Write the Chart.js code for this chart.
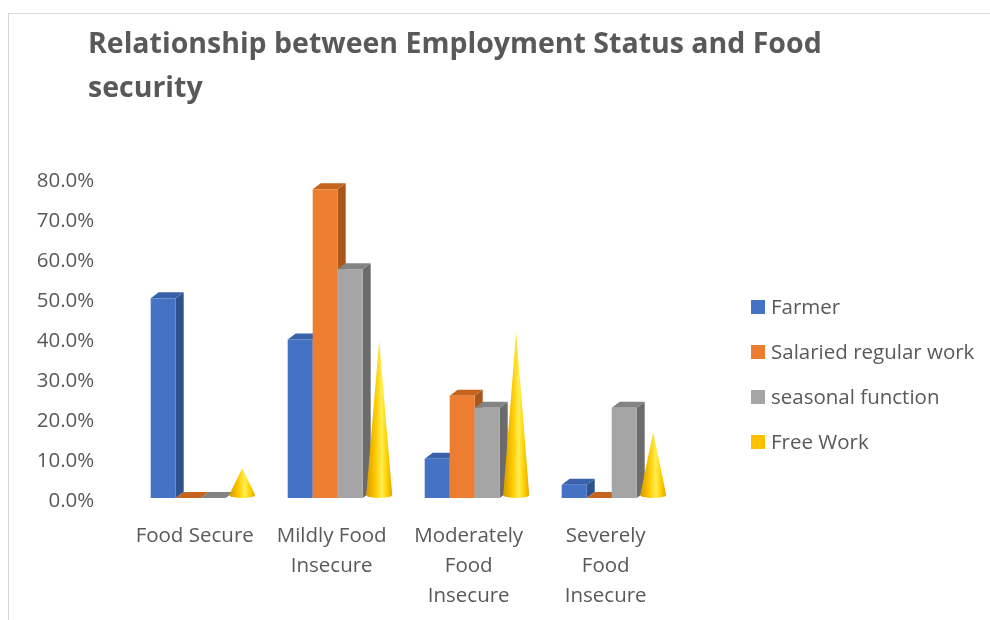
<!DOCTYPE html>
<html>
<head>
<meta charset="utf-8">
<script src="https://cdn.jsdelivr.net/npm/chart.js@4.4.1/dist/chart.umd.min.js"></script>
<style>
  html, body { margin: 0; padding: 0; background: #fff; overflow: hidden; }
  #wrap { position: relative; width: 990px; height: 620px; overflow: hidden; }
  #frame { position: absolute; left: 8px; top: 13px; width: 1100px; height: 700px; border: 1px solid #d9d9d9; }
  #chart { position: absolute; left: 0; top: 0; }
</style>
</head>
<body>
<div id="wrap">
  <div id="frame"></div>
  <canvas id="chart" width="990" height="620"></canvas>
</div>
<script>
// ---- Datos ----
const categories = [
  ['Food Secure'],
  ['Mildly Food', 'Insecure'],
  ['Moderately', 'Food', 'Insecure'],
  ['Severely', 'Food', 'Insecure']
];
const seriesNames = ['Farmer', 'Salaried regular work', 'seasonal function', 'Free Work'];
const farmer   = [50.0, 39.7, 9.8, 3.3];
const salaried = [0, 77.3, 25.6, 0];
const seasonal = [0, 57.3, 22.6, 22.6];
const freeWork = [6.7, 38.6, 40.8, 15.7];
const yMin = 0, yMax = 80, yStep = 10;

const titleLines = ['Relationship between Employment Status and Food', 'security'];

// ---- Estilo ----
const FONT = "'Open Sans', sans-serif";
const TEXT = '#595959';
const DX = 8, DY = 6; // profundidad 3D

Chart.defaults.font.family = FONT;
Chart.defaults.color = TEXT;

// cara frontal / lateral / superior
const shades = [
  { front: '#4472C4', side: '#2F528F', top: '#3A62AA' },
  { front: '#ED7D31', side: '#A9561D', top: '#C5631F' },
  { front: '#A5A5A5', side: '#6B6B6B', top: '#838383' },
  null
];

function drawBox(ctx, x, y, base, w, c) {
  const l = x - w / 2, r = x + w / 2;
  ctx.fillStyle = c.side;
  ctx.beginPath();
  ctx.moveTo(r, y); ctx.lineTo(r + DX, y - DY); ctx.lineTo(r + DX, base - DY); ctx.lineTo(r, base);
  ctx.closePath(); ctx.fill();

  ctx.fillStyle = c.top;
  ctx.beginPath();
  ctx.moveTo(l, y); ctx.lineTo(l + DX, y - DY); ctx.lineTo(r + DX, y - DY); ctx.lineTo(r, y);
  ctx.closePath(); ctx.fill();

  ctx.fillStyle = c.front;
  ctx.fillRect(l, y, w, base - y);
}

function drawCone(ctx, x, y, base, w) {
  const cx = x + DX / 2, by = base - DY / 2, ty = y - DY / 2, r = w / 2 + 0.5, ry = 3;
  const g = ctx.createLinearGradient(cx - r, 0, cx + r, 0);
  g.addColorStop(0, '#D49A00');
  g.addColorStop(0.35, '#FFC800');
  g.addColorStop(0.6, '#FFEF50');
  g.addColorStop(0.8, '#FFD000');
  g.addColorStop(1, '#E0A600');
  ctx.fillStyle = g;
  ctx.beginPath();
  ctx.moveTo(cx, ty);
  ctx.lineTo(cx + r, by);
  ctx.ellipse(cx, by, r, ry, 0, 0, Math.PI);
  ctx.closePath();
  ctx.fill();
}

// ---- Plugin: columnas 3D y conos ----
const bars3d = {
  id: 'bars3d',
  beforeDatasetDraw() { return false; },
  afterDatasetsDraw(chart) {
    const ctx = chart.ctx;
    ctx.save();
    chart.data.labels.forEach((_, i) => {
      chart.data.datasets.forEach((ds, d) => {
        const el = chart.getDatasetMeta(d).data[i];
        const { x, y, base, width } = el.getProps(['x', 'y', 'base', 'width'], true);
        if (shades[d]) drawBox(ctx, x, y, base, width, shades[d]);
        else drawCone(ctx, x, y, base, width);
      });
    });
    ctx.restore();
  }
};

// ---- Plugin: título y leyenda ----
const textPlugin = {
  id: 'titleLegend',
  afterDraw(chart) {
    const ctx = chart.ctx;
    ctx.save();
    ctx.font = `bold 28.5px ${FONT}`;
    ctx.fillStyle = TEXT;
    ctx.textBaseline = 'alphabetic';
    ctx.fillText(titleLines[0], 88, 53);
    ctx.fillText(titleLines[1], 88, 97);

    // leyenda a la derecha
    ctx.font = `20.5px ${FONT}`;
    ctx.textBaseline = 'middle';
    chart.data.datasets.forEach((ds, i) => {
      const cy = 307 + i * 45;
      ctx.fillStyle = ds.backgroundColor;
      ctx.fillRect(751, cy - 7, 14, 14);
      ctx.fillStyle = TEXT;
      ctx.fillText(ds.label, 771, cy + 1);
    });
    ctx.restore();
  }
};

const ctx = document.getElementById('chart').getContext('2d');

new Chart(ctx, {
  type: 'bar',
  data: {
    labels: categories,
    datasets: [
      { label: seriesNames[0], data: farmer, backgroundColor: '#4472C4' },
      { label: seriesNames[1], data: salaried, backgroundColor: '#ED7D31' },
      { label: seriesNames[2], data: seasonal, backgroundColor: '#A5A5A5' },
      { label: seriesNames[3], data: freeWork, backgroundColor: '#FFC000' }
    ]
  },
  options: {
    responsive: false,
    animation: false,
    datasets: { bar: { barPercentage: 1, categoryPercentage: 100 / 137 } },
    layout: { padding: { left: 0, top: 178.5, right: 309.8, bottom: 0 } },
    scales: {
      x: {
        grid: { display: false },
        border: { display: false },
        ticks: {
          color: TEXT,
          font: { size: 20.5, lineHeight: 1.46 },
          padding: 15,
          labelOffset: -6,
          maxRotation: 0,
          autoSkip: false
        },
        afterFit: (s) => { s.height = 122; }
      },
      y: {
        min: yMin,
        max: yMax,
        grid: { display: false },
        border: { display: false },
        ticks: {
          stepSize: yStep,
          color: TEXT,
          font: { size: 20.5 },
          padding: 30,
          labelOffset: 3,
          callback: (v) => v.toFixed(1) + '%'
        },
        afterFit: (s) => { s.width = 132.2; }
      }
    },
    plugins: {
      legend: { display: false },
      tooltip: { enabled: false }
    }
  },
  plugins: [bars3d, textPlugin]
});
</script>
</body>
</html>
